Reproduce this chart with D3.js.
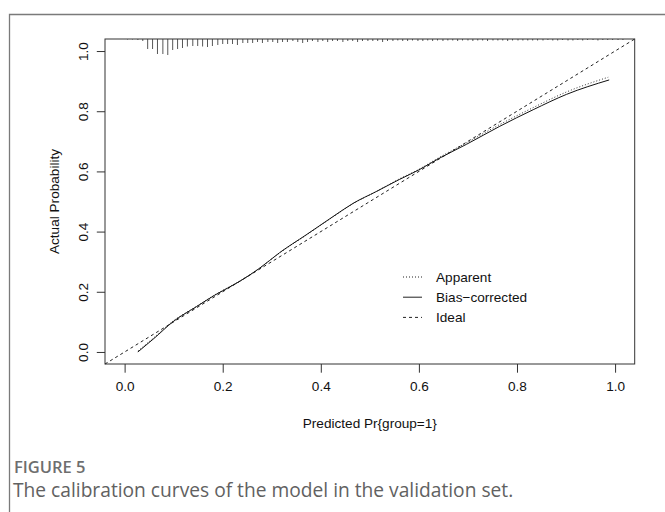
<!DOCTYPE html>
<html>
<head>
<meta charset="utf-8">
<script src="https://cdn.jsdelivr.net/npm/d3@7/dist/d3.min.js"></script>
<style>
  body { margin: 0; background: #fff; }
  svg { display: block; }
  .tick text, .axis-title, .legend-label { font-family: "Liberation Sans", Arial, sans-serif; font-size: 13.6px; fill: #111; }
  .fig-no { font-family: "Open Sans", sans-serif; font-size: 16.5px; font-weight: 600; fill: #6e6e6e; }
  .fig-caption { font-family: "Open Sans", sans-serif; font-size: 19.2px; fill: #616161; }
</style>
</head>
<body>
<div id="chart"></div>
<script>
const margin = { top: 39, right: 30.3, bottom: 148, left: 105 };
const W = 665, H = 512;
const width = W - margin.left - margin.right,
      height = H - margin.top - margin.bottom;

// axis ticks
const xTicks = [0, 0.2, 0.4, 0.6, 0.8, 1.0];
const yTicks = [0, 0.2, 0.4, 0.6, 0.8, 1.0];

// Bias-corrected calibration curve
const biasX = [0.027, 0.06, 0.099, 0.146, 0.184, 0.234, 0.275, 0.316, 0.37, 0.425, 0.466, 0.513, 0.56, 0.60, 0.642, 0.697, 0.765, 0.833, 0.901, 0.988];
const biasY = [0.000, 0.045, 0.101, 0.150, 0.189, 0.234, 0.278, 0.330, 0.389, 0.450, 0.494, 0.533, 0.573, 0.605, 0.644, 0.690, 0.750, 0.805, 0.856, 0.904];

// Apparent calibration curve
const apparentX = [0.027, 0.06, 0.099, 0.146, 0.184, 0.234, 0.275, 0.316, 0.37, 0.425, 0.466, 0.513, 0.56, 0.60, 0.642, 0.697, 0.765, 0.833, 0.901, 0.986];
const apparentY = [0.003, 0.048, 0.103, 0.151, 0.190, 0.235, 0.278, 0.329, 0.388, 0.449, 0.493, 0.533, 0.575, 0.607, 0.647, 0.695, 0.756, 0.812, 0.864, 0.913];

// Ideal line
const idealX = [-0.04, 1.04];
const idealY = [-0.04, 1.04];

// distribution of predicted probabilities (rug at top)
const rugX = [0.006, 0.016, 0.027, 0.037, 0.047, 0.057, 0.067, 0.078, 0.088, 0.098,
  0.108, 0.118, 0.128, 0.139, 0.149, 0.159, 0.169, 0.179, 0.190, 0.200,
  0.210, 0.220, 0.230, 0.241, 0.251, 0.261, 0.271, 0.281, 0.292, 0.302,
  0.312, 0.322, 0.332, 0.343, 0.353, 0.363, 0.373, 0.383, 0.394, 0.404,
  0.414, 0.424, 0.434, 0.445, 0.455, 0.465, 0.475, 0.485, 0.496, 0.506,
  0.516, 0.526, 0.536, 0.547, 0.557, 0.567, 0.577, 0.587, 0.598, 0.608,
  0.618, 0.628, 0.638, 0.649, 0.659, 0.669, 0.679, 0.689, 0.700, 0.710,
  0.720, 0.730, 0.740, 0.751, 0.761, 0.771, 0.781, 0.791, 0.802, 0.812,
  0.822, 0.832, 0.842, 0.853, 0.863, 0.873, 0.883, 0.893, 0.904, 0.914,
  0.924, 0.934, 0.944, 0.955, 0.965, 0.975, 0.985, 0.995, 1.006, 1.016];
const rugFreq = [0.5, 0.5, 1, 2, 10, 10, 15, 15, 16, 11,
  10, 9, 7.5, 7, 7, 7.5, 8, 7, 6, 5,
  5, 5, 6, 4, 4, 4, 3, 4, 3, 3,
  4, 3, 3, 2, 3, 4, 3, 2, 3, 2,
  3, 2, 2, 3, 2, 2, 3, 2, 2, 2,
  2, 3, 2, 2, 1.5, 2, 2, 1.5, 2, 2,
  1.5, 2, 1.5, 2, 1.5, 1.5, 2, 1.5, 1.5, 2,
  1.5, 1.5, 2, 1.5, 1.5, 1.5, 2, 1.5, 1.5, 1.5,
  1.5, 1.5, 1.5, 1.5, 1, 1.5, 1.5, 1, 1.5, 1.5,
  1, 1.5, 1, 1, 1.5, 1, 1, 1, 1, 1];

const legendLabels = ['Apparent', 'Bias\u2212corrected', 'Ideal'];
const legendDash = ['1,2', null, '3,3'];

const svg = d3.select('#chart').append('svg')
  .attr('width', W)
  .attr('height', H);

svg.append('rect').attr('width', W).attr('height', H).attr('fill', '#fff');

// outer figure frame (open right/bottom)
svg.append('path')
  .attr('d', 'M9.5,' + H + 'V14.5H' + W)
  .attr('fill', 'none')
  .attr('stroke', '#7a7a7a')
  .attr('stroke-width', 1.3);

const xScale = d3.scaleLinear().domain([-0.04, 1.04]).range([0, width]);
const yScale = d3.scaleLinear().domain([-0.04, 1.04]).range([height, 0]);

const g = svg.append('g')
  .attr('transform', 'translate(' + margin.left + ',' + margin.top + ')');

// rug
g.append('g').selectAll('line').data(rugX)
  .enter().append('line')
    .attr('x1', d => xScale(d))
    .attr('x2', d => xScale(d))
    .attr('y1', 0)
    .attr('y2', (d, i) => rugFreq[i])
    .attr('stroke', '#444')
    .attr('stroke-width', 0.9);

// axes
const xAxis = d3.axisBottom(xScale).tickValues(xTicks).tickFormat(d3.format('.1f'))
  .tickSize(8.7).tickSizeOuter(0);
const yAxis = d3.axisLeft(yScale).tickValues(yTicks).tickFormat(d3.format('.1f'))
  .tickSize(8.2).tickSizeOuter(0);

const gx = g.append('g').attr('transform', 'translate(0,' + height + ')').call(xAxis);
const gy = g.append('g').call(yAxis);
[gx, gy].forEach(a => {
  a.select('.domain').remove();
  a.selectAll('.tick line').attr('stroke', '#333');
});
gx.selectAll('.tick text').attr('dy', '0.71em').attr('y', 17.5);
gy.selectAll('.tick text')
  .attr('x', null).attr('dy', null)
  .attr('text-anchor', 'middle')
  .attr('transform', 'translate(-17,0) rotate(-90)');

// plot box
g.append('rect')
  .attr('width', width).attr('height', height)
  .attr('fill', 'none').attr('stroke', '#333').attr('stroke-width', 1);

// lines
const line = d3.line()
  .x(d => xScale(d[0]))
  .y(d => yScale(d[1]))
  .curve(d3.curveMonotoneX);

g.append('path')
  .datum(idealX.map((d, i) => [d, idealY[i]]))
  .attr('d', d3.line().x(d => xScale(d[0])).y(d => yScale(d[1])))
  .attr('fill', 'none').attr('stroke', '#222').attr('stroke-width', 1)
  .attr('stroke-dasharray', '3,3');

g.append('path')
  .datum(apparentX.map((d, i) => [d, apparentY[i]]))
  .attr('d', line)
  .attr('fill', 'none').attr('stroke', '#333').attr('stroke-width', 1)
  .attr('stroke-dasharray', '1,2');

g.append('path')
  .datum(biasX.map((d, i) => [d, biasY[i]]))
  .attr('d', line)
  .attr('fill', 'none').attr('stroke', '#111').attr('stroke-width', 1);

// legend
const legend = g.append('g').attr('transform', 'translate(298,238)');
legendLabels.forEach((lab, i) => {
  legend.append('line')
    .attr('x1', 0).attr('x2', 19)
    .attr('y1', i * 20.2).attr('y2', i * 20.2)
    .attr('stroke', '#222').attr('stroke-width', 1)
    .attr('stroke-dasharray', legendDash[i]);
  legend.append('text')
    .attr('class', 'legend-label')
    .attr('x', 33).attr('y', i * 20.2).attr('dy', '0.35em')
    .text(lab);
});

// axis titles
g.append('text')
  .attr('class', 'axis-title')
  .attr('text-anchor', 'middle')
  .attr('x', width / 2).attr('y', height + 64)
  .text('Predicted Pr{group=1}');

g.append('text')
  .attr('class', 'axis-title')
  .attr('text-anchor', 'middle')
  .attr('transform', 'translate(-46,' + (height / 2) + ') rotate(-90)')
  .text('Actual Probability');

// caption
svg.append('text')
  .attr('class', 'fig-no')
  .attr('x', 14).attr('y', 473)
  .text('FIGURE 5');
svg.append('text')
  .attr('class', 'fig-caption')
  .attr('x', 13).attr('y', 497)
  .text('The calibration curves of the model in the validation set.');
</script>
</body>
</html>
